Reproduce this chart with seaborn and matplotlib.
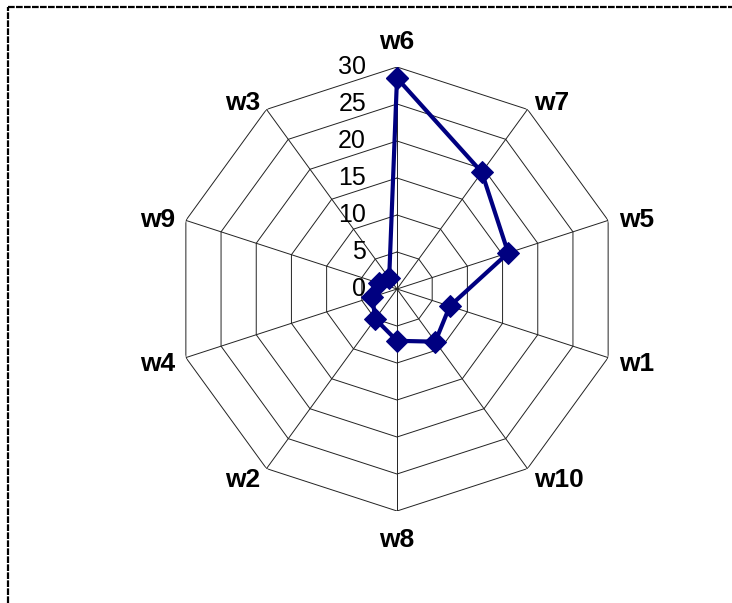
import numpy as np
import pandas as pd
import matplotlib
matplotlib.use("Agg")
import matplotlib.pyplot as plt
import seaborn as sns
from matplotlib.lines import Line2D

categories = ["w6", "w7", "w5", "w1", "w10", "w8", "w2", "w4", "w9", "w3"]
values = [28.5, 19.5, 15.8, 7.5, 8.8, 7.0, 5.0, 3.5, 2.6, 1.8]
rings = [5, 10, 15, 20, 25, 30]
ring_labels = ["0", "5", "10", "15", "20", "25", "30"]

sns.set_style("white")
plt.rcParams["font.family"] = ["Liberation Sans", "DejaVu Sans"]
plt.rcParams["text.color"] = "black"

n = len(categories)
theta = np.linspace(0, 2 * np.pi, n, endpoint=False)
theta_closed = np.append(theta, 2 * np.pi)

df = pd.DataFrame({
    "theta": theta_closed,
    "value": values + values[:1],
})

W, H = 732, 603
cx, cy, R = 397, 289, 222
fig = plt.figure(figsize=(W / 100, H / 100), dpi=100)
ax = fig.add_axes([(cx - R) / W, (H - cy - R) / H, 2 * R / W, 2 * R / H],
                  projection="polar")
ax.set_theta_zero_location("N")
ax.set_theta_direction(-1)
ax.set_ylim(0, 30)
ax.grid(False)
ax.spines["polar"].set_visible(False)
ax.set_xticks([])
ax.set_yticks([])
ax.patch.set_alpha(0)

# polygon rings and spokes
for r in rings:
    ax.plot(theta_closed, [r] * (n + 1), color="#222222", lw=0.7, zorder=1)
for t in theta:
    ax.plot([t, t], [0, 30], color="#222222", lw=0.7, zorder=1)

sns.lineplot(data=df, x="theta", y="value", sort=False, estimator=None,
             color="#000080", linewidth=3, marker="D", markersize=11,
             markeredgecolor="#000080", ax=ax, zorder=3)
ax.set_xlabel("")
ax.set_ylabel("")

# radial tick labels
for i, lab in enumerate(ring_labels):
    ax.annotate(lab, xy=(0, i * 5), xytext=(-31 * 0.72, 0),
                textcoords="offset points", ha="right", va="center",
                fontsize=18, color="black", zorder=4)

# category labels
for t, lab in zip(theta, categories):
    s, c = np.sin(t), np.cos(t)
    if abs(s) < 0.1:
        ha = "center"
        va = "bottom" if c > 0 else "top"
        off = (0, 9.5 if c > 0 else -12.5)
    else:
        ha = "left" if s > 0 else "right"
        va = "center"
        off = (s * 8, c * 8 - 2)
    ax.annotate(lab, xy=(t, 30), xytext=off, textcoords="offset points",
                ha=ha, va=va, fontsize=19, fontweight="bold", color="black",
                annotation_clip=False)

# dashed frame on top and left
fig.add_artist(Line2D([8 / W, 8 / W], [0, 1 - 7 / H], color="black",
                      lw=1.6, ls=(0, (3, 0.6)), transform=fig.transFigure))
fig.add_artist(Line2D([8 / W, 1], [1 - 7 / H, 1 - 7 / H], color="black",
                      lw=1.6, ls=(0, (3, 0.6)), transform=fig.transFigure))

fig.savefig("out.png", dpi=100)
